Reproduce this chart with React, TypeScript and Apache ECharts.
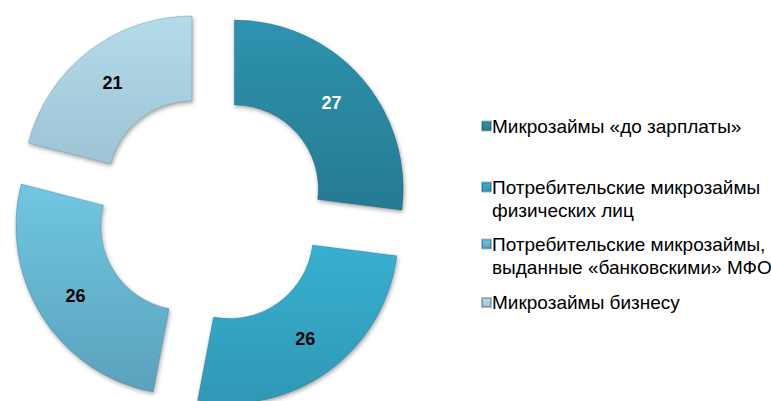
import React, { useEffect, useRef } from "react";
import * as echarts from "echarts";

const categories = [
  "Микрозаймы «до зарплаты»",
  "Потребительские микрозаймы физических лиц",
  "Потребительские микрозаймы, выданные «банковскими» МФО",
  "Микрозаймы бизнесу",
];
const legendLines = [
  ["Микрозаймы «до зарплаты»"],
  ["Потребительские микрозаймы", "физических лиц"],
  ["Потребительские микрозаймы,", "выданные «банковскими» МФО"],
  ["Микрозаймы бизнесу"],
];
const values = [27, 26, 26, 21];
const colorsTop = ["#2e93af", "#38afcf", "#70c6e2", "#b3dbea"];
const colorsBottom = ["#267a92", "#2f98b6", "#5ba2bb", "#9dc4d4"];
const labelColors = ["#ffffff", "#000000", "#000000", "#000000"];
const legendTops = [114.5, 152.5, 209.5, 291];

export default function App() {
  const ref = useRef<HTMLDivElement>(null);
  useEffect(() => {
    if (!ref.current) return;
    const chart = echarts.init(ref.current, null, { renderer: "svg" });
    const font = "'Liberation Sans', Arial, sans-serif";
    const legends = categories.map((c, i) => {
      const lines = legendLines[i];
      // for wrapped items, add an empty leading line so the first line sits beside the marker
      const text = lines.length > 1 ? ["", ...lines].join("\n") : lines[0];
      return {
        data: [{ name: c, icon: "rect" }],
        orient: "vertical",
        left: 481,
        top: legendTops[i],
        padding: 0,
        itemWidth: 9,
        itemHeight: 9,
        selectedMode: false,
        formatter: () => text,
        textStyle: {
          fontFamily: font,
          fontSize: 19,
          lineHeight: 23,
          color: "#000",
          padding: [0, 0, 0, -4],
        },
      };
    });
    chart.setOption({
      animation: false,
      backgroundColor: "#ffffff",
      legend: legends,
      series: [
        {
          type: "pie",
          center: [211, 209.5],
          radius: [84, 169],
          startAngle: 90,
          clockwise: true,
          selectedMode: "multiple",
          selectedOffset: 31,
          emphasis: { disabled: true },
          select: {
            itemStyle: {
              borderColor: "rgba(20,60,80,0.35)",
              borderWidth: 0.6,
            },
          },
          itemStyle: {
            borderColor: "rgba(20,60,80,0.35)",
            borderWidth: 0.6,
            shadowBlur: 4,
            shadowColor: "rgba(0,0,0,0.35)",
            shadowOffsetX: 1,
            shadowOffsetY: 2,
          },
          label: {
            show: true,
            position: "inside",
            formatter: "{c}",
            fontFamily: font,
            fontSize: 18,
            fontWeight: "bold",
          },
          labelLine: { show: false },
          data: categories.map((c, i) => ({
            name: c,
            value: values[i],
            selected: true,
            itemStyle: {
              color: new echarts.graphic.LinearGradient(0, 0, 0, 1, [
                { offset: 0, color: colorsTop[i] },
                { offset: 1, color: colorsBottom[i] },
              ]),
            },
            label: { color: labelColors[i] },
          })),
        },
      ],
    });
    return () => chart.dispose();
  }, []);
  return (
    <div
      ref={ref}
      style={{ position: "absolute", left: 0, top: 0, width: 771, height: 401 }}
    />
  );
}
